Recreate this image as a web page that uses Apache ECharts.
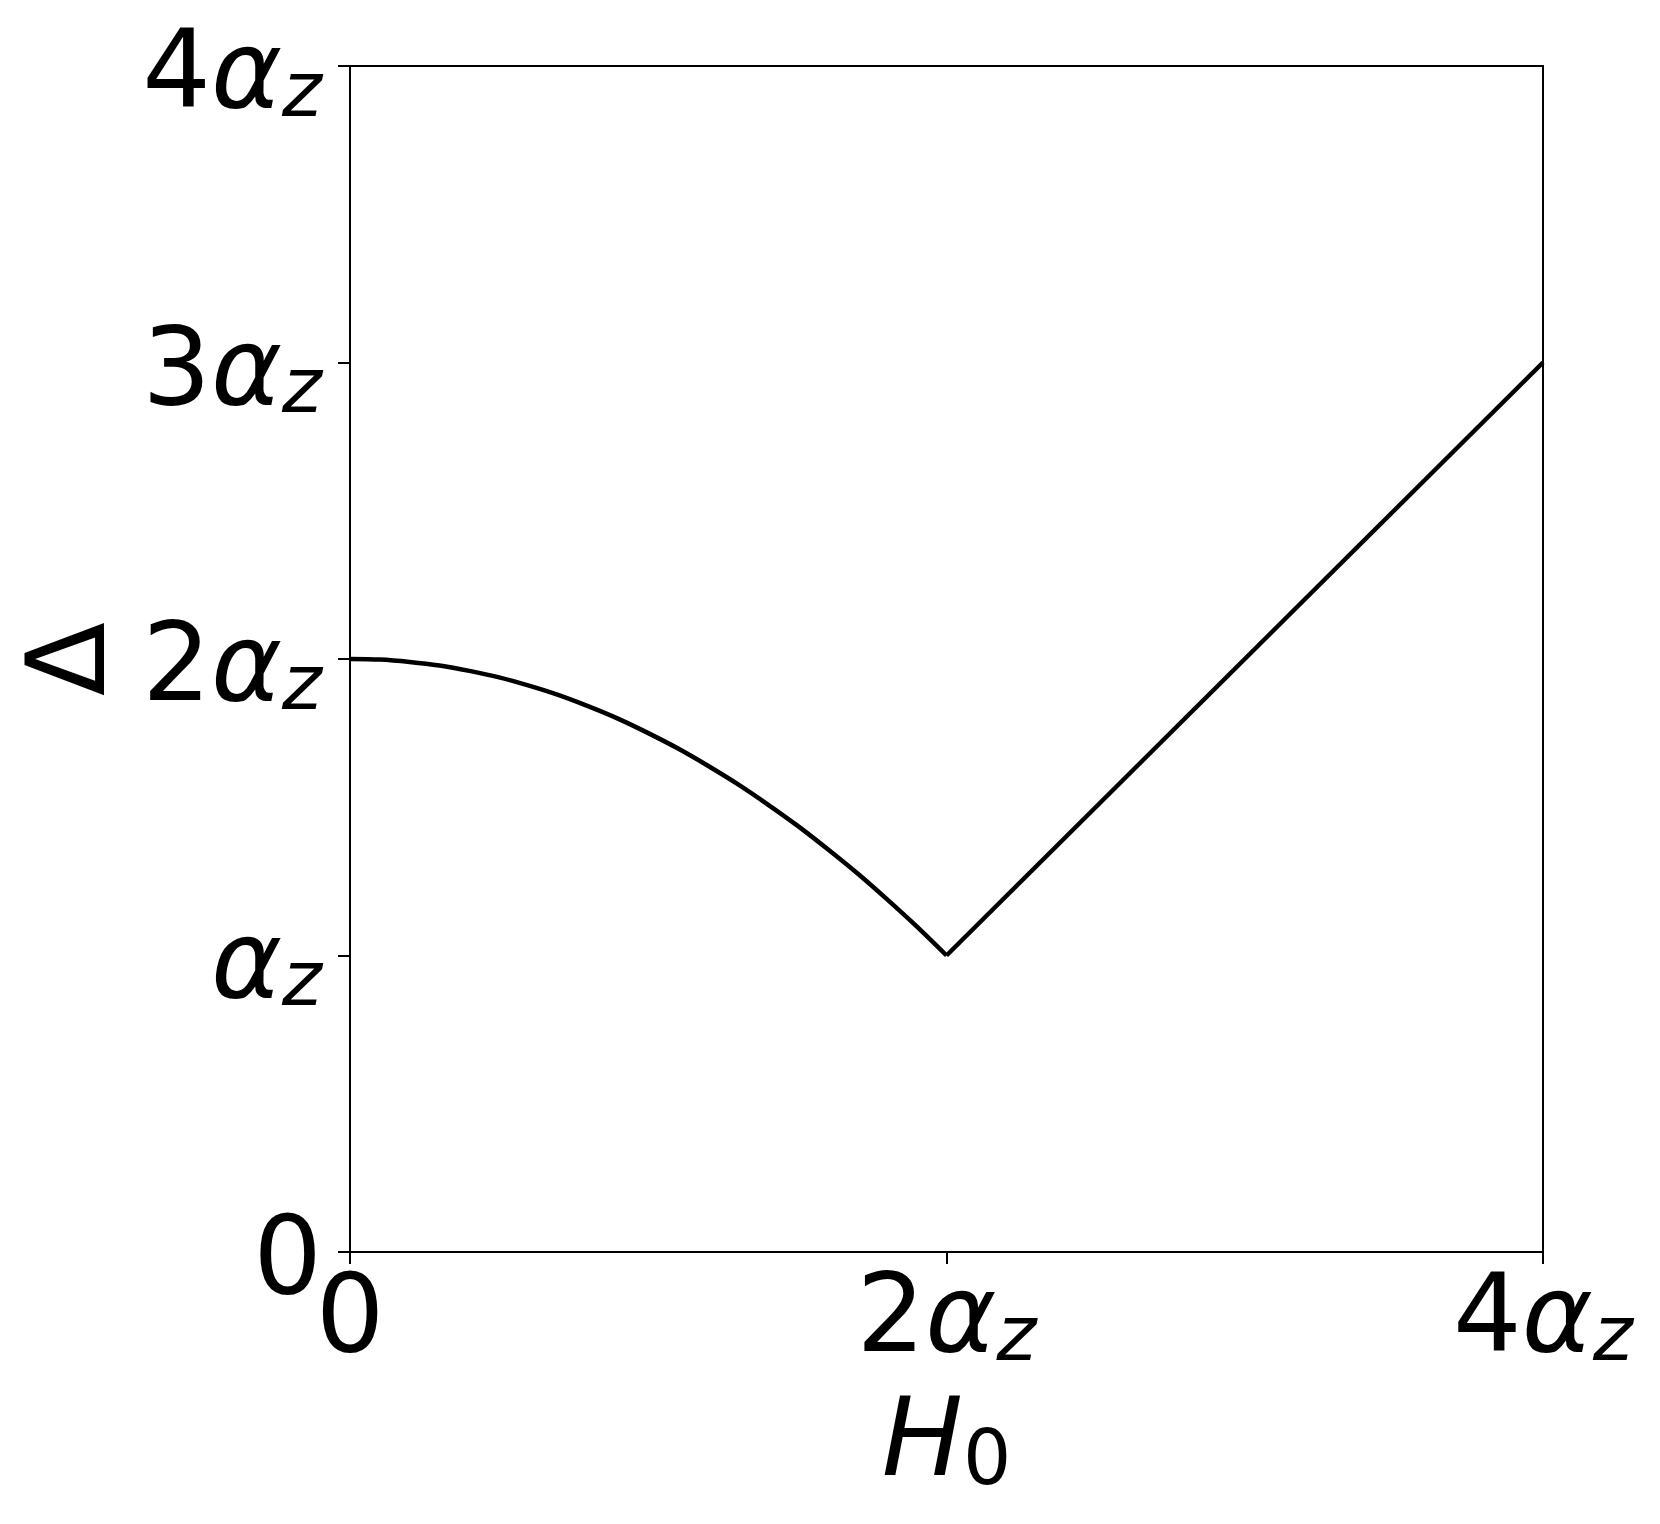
<!DOCTYPE html>
<html>
<head>
<meta charset="utf-8">
<script src="https://cdn.jsdelivr.net/npm/echarts@6/dist/echarts.min.js"></script>
<style>
  html, body { margin: 0; padding: 0; background: #fff; }
  #chart { width: 1660px; height: 1524px; }
</style>
</head>
<body>
<div id="chart"></div>
<script>
// 曲线部分 (H0 从 0 到 2αz)
var curveH = [0, 0.1, 0.2, 0.3, 0.4, 0.5, 0.6, 0.7, 0.8, 0.9, 1.0, 1.1, 1.2, 1.3, 1.4, 1.5, 1.6, 1.7, 1.8, 1.9, 2.0];
var curveD = [2.000, 1.998, 1.990, 1.978, 1.960, 1.938, 1.910, 1.878, 1.840, 1.798, 1.750, 1.698, 1.640, 1.578, 1.510, 1.438, 1.360, 1.278, 1.190, 1.098, 1.000];
// 直线部分
var lineH = [2.0, 4.0];
var lineD = [1.00, 3.00];
// 刻度标签
var xTicks = { 0: '0', 2: '2', 4: '4' };
var yTicks = { 0: '0', 1: '', 2: '2', 3: '3', 4: '4' };

var FONT = 'DejaVu Sans';
var richTick = {
  n: { fontFamily: FONT, fontSize: 108, lineHeight: 110, color: '#000' },
  a: { fontFamily: FONT, fontSize: 108, lineHeight: 110, fontStyle: 'italic', color: '#000' },
  s: { fontFamily: FONT, fontSize: 76, lineHeight: 30, fontStyle: 'italic', verticalAlign: 'bottom', color: '#000' }
};

function tickFmt(map) {
  return function (v) {
    var k = Math.round(v);
    if (k === 0) return '{n|0}';
    return '{n|' + map[k] + '}{a|α}{s|z}';
  };
}

function pairs(xs, ys) {
  return xs.map(function (x, i) { return [x, ys[i]]; });
}

var chart = echarts.init(document.getElementById('chart'));
var option = {
  backgroundColor: '#fff',
  animation: false,
  grid: {
    left: 350, right: 117, top: 66, bottom: 272,
    show: true, borderColor: '#000', borderWidth: 2, backgroundColor: 'transparent'
  },
  xAxis: {
    type: 'value', min: 0, max: 4, interval: 2,
    axisLine: { show: true, lineStyle: { color: '#000', width: 2 } },
    axisTick: { show: true, length: 12, lineStyle: { color: '#000', width: 2 } },
    splitLine: { show: false },
    axisLabel: { margin: 16, formatter: tickFmt(xTicks), rich: richTick },
    name: '{h|H}{s|0}',
    nameLocation: 'middle',
    nameGap: 140,
    nameTextStyle: {
      rich: {
        h: { fontFamily: FONT, fontSize: 108, lineHeight: 110, fontStyle: 'italic', color: '#000' },
        s: { fontFamily: FONT, fontSize: 76, lineHeight: 30, verticalAlign: 'bottom', color: '#000' }
      }
    }
  },
  yAxis: {
    type: 'value', min: 0, max: 4, interval: 1,
    axisLine: { show: true, lineStyle: { color: '#000', width: 2 } },
    axisTick: { show: true, length: 12, lineStyle: { color: '#000', width: 2 } },
    splitLine: { show: false },
    axisLabel: { margin: 28, padding: [26, 0, 0, 0], formatter: tickFmt(yTicks), rich: richTick },
    name: 'Δ',
    nameLocation: 'middle',
    nameRotate: 90,
    nameGap: 217,
    nameTextStyle: { fontFamily: FONT, fontSize: 108, lineHeight: 110, color: '#000' }
  },
  series: [
    {
      type: 'line', data: pairs(curveH, curveD), symbol: 'none', smooth: 0.3,
      lineStyle: { color: '#000', width: 4.5 }
    },
    {
      type: 'line', data: pairs(lineH, lineD), symbol: 'none',
      lineStyle: { color: '#000', width: 4.5 }
    }
  ]
};
chart.setOption(option);
</script>
</body>
</html>
